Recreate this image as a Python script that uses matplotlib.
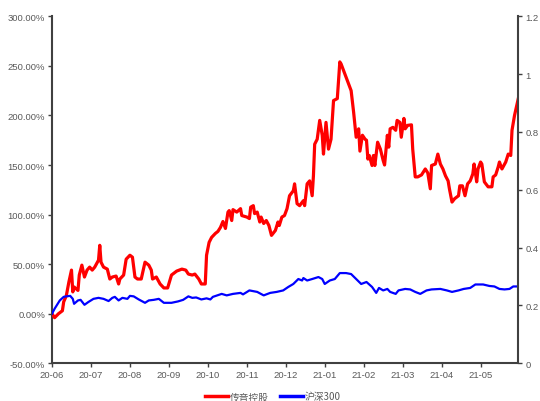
import matplotlib
matplotlib.use("Agg")
import matplotlib.pyplot as plt
import calendar
from datetime import date

plt.rcParams['font.family'] = ['Liberation Sans', 'Noto Sans CJK SC', 'DejaVu Sans']

# ---- data ----
red_dates = ["2020-06-01","2020-06-03","2020-06-06","2020-06-09","2020-06-10","2020-06-12","2020-06-14","2020-06-16",
             "2020-06-17","2020-06-18","2020-06-21","2020-06-22","2020-06-24","2020-06-26","2020-06-28","2020-06-30",
             "2020-07-02","2020-07-04","2020-07-07","2020-07-08","2020-07-09","2020-07-11","2020-07-14","2020-07-16",
             "2020-07-18","2020-07-21","2020-07-23","2020-07-24","2020-07-27","2020-07-29","2020-08-01","2020-08-03",
             "2020-08-05","2020-08-07","2020-08-10","2020-08-13","2020-08-16","2020-08-18","2020-08-19","2020-08-22",
             "2020-08-25","2020-08-28","2020-08-31","2020-09-03","2020-09-07","2020-09-11","2020-09-14","2020-09-16",
             "2020-09-19","2020-09-21","2020-09-24","2020-09-26","2020-09-29","2020-09-30","2020-10-02","2020-10-04",
             "2020-10-07","2020-10-09","2020-10-11","2020-10-13","2020-10-15","2020-10-17","2020-10-18","2020-10-20",
             "2020-10-21","2020-10-24","2020-10-27","2020-10-28","2020-11-01","2020-11-03","2020-11-04","2020-11-06",
             "2020-11-07","2020-11-09","2020-11-11","2020-11-12","2020-11-14","2020-11-16","2020-11-18","2020-11-20",
             "2020-11-23","2020-11-25","2020-11-26","2020-11-28","2020-11-30","2020-12-02","2020-12-04","2020-12-07",
             "2020-12-08","2020-12-10","2020-12-12","2020-12-15","2020-12-16","2020-12-18","2020-12-20","2020-12-22",
             "2020-12-23","2020-12-24","2020-12-26","2020-12-28","2020-12-30","2020-12-31","2021-01-02","2021-01-04",
             "2021-01-06","2021-01-08","2021-01-11","2021-01-13","2021-01-14","2021-01-18","2021-01-22","2021-01-24",
             "2021-01-26","2021-01-28","2021-01-29","2021-01-31","2021-02-02","2021-02-03","2021-02-04","2021-02-05",
             "2021-02-07","2021-02-08","2021-02-09","2021-02-11","2021-02-13","2021-02-15","2021-02-16","2021-02-18",
             "2021-02-19","2021-02-20","2021-02-22","2021-02-24","2021-02-25","2021-02-27","2021-02-28","2021-03-02",
             "2021-03-03","2021-03-05","2021-03-08","2021-03-09","2021-03-11","2021-03-13","2021-03-16","2021-03-19",
             "2021-03-21","2021-03-23","2021-03-24","2021-03-27","2021-03-29","2021-03-31","2021-04-02","2021-04-04",
             "2021-04-06","2021-04-07","2021-04-09","2021-04-11","2021-04-14","2021-04-15","2021-04-17","2021-04-19",
             "2021-04-21","2021-04-23","2021-04-25","2021-04-26","2021-04-28","2021-04-29","2021-05-01","2021-05-02",
             "2021-05-04","2021-05-07","2021-05-10","2021-05-11","2021-05-13","2021-05-15","2021-05-16","2021-05-18",
             "2021-05-21","2021-05-23","2021-05-25","2021-05-26","2021-05-28","2021-05-31"]
red_values = [0, -4, 0, 3, 12, 18, 32, 44,
              22, 27, 23.5, 39, 49, 37, 44, 47,
              44, 47, 54, 69, 52, 47, 45, 35,
              37, 38, 30, 35, 39, 55, 59, 57,
              37, 35, 35, 52, 49, 44, 35, 37,
              30, 26, 26, 39, 43, 45, 44, 40,
              39, 40, 35, 30, 30, 59, 72, 77,
              81, 83, 87, 93, 86, 102.5, 104, 94,
              105, 102.5, 106, 99, 97.5, 96, 107.5, 109,
              101, 102.5, 92.5, 97.5, 91, 94, 89, 79,
              84, 92.5, 89, 97.5, 99, 106, 119, 124,
              131, 111, 109, 114, 109, 131, 134, 119,
              139, 171, 176, 195, 180, 161, 193, 166,
              176, 215, 217, 254, 252, 238.5, 225, 203,
              178, 186.5, 164, 180, 176, 175, 156, 159.6,
              149.5, 159.6, 149.5, 173, 166, 154.5, 150, 180,
              168, 186.5, 188, 185, 195, 193, 178, 197,
              186.5, 190, 190.5, 166, 138, 138, 140, 146,
              142, 126, 149.5, 151, 161, 151, 146, 139,
              134, 126, 112.6, 116, 119, 129, 129, 119,
              131, 134, 141, 151, 133, 146, 153, 151,
              133, 128, 128, 138, 140, 148, 153, 146,
              153, 161, 159.6, 185, 200, 217]

blue_dates = ["2020-06-01","2020-06-03","2020-06-07","2020-06-10","2020-06-12","2020-06-15","2020-06-17","2020-06-18",
              "2020-06-21","2020-06-23","2020-06-26","2020-06-29","2020-07-03","2020-07-07","2020-07-11","2020-07-15",
              "2020-07-18","2020-07-20","2020-07-23","2020-07-26","2020-07-30","2020-08-01","2020-08-04","2020-08-08",
              "2020-08-13","2020-08-16","2020-08-20","2020-08-24","2020-08-28","2020-09-03","2020-09-08","2020-09-12",
              "2020-09-16","2020-09-19","2020-09-22","2020-09-26","2020-09-30","2020-10-03","2020-10-05","2020-10-12",
              "2020-10-16","2020-10-21","2020-10-27","2020-10-29","2020-11-03","2020-11-09","2020-11-14","2020-11-19",
              "2020-11-24","2020-11-29","2020-12-03","2020-12-07","2020-12-11","2020-12-14","2020-12-15","2020-12-18",
              "2020-12-22","2020-12-27","2020-12-30","2021-01-01","2021-01-05","2021-01-09","2021-01-13","2021-01-18",
              "2021-01-22","2021-01-26","2021-01-30","2021-02-03","2021-02-07","2021-02-10","2021-02-12","2021-02-15",
              "2021-02-18","2021-02-20","2021-02-24","2021-02-26","2021-03-03","2021-03-07","2021-03-11","2021-03-15",
              "2021-03-20","2021-03-24","2021-03-31","2021-04-05","2021-04-09","2021-04-14","2021-04-18","2021-04-23",
              "2021-04-27","2021-05-03","2021-05-08","2021-05-12","2021-05-16","2021-05-20","2021-05-24","2021-05-27",
              "2021-05-31"]
blue_values = [0, 5, 13.4, 17, 17.5, 18, 15, 10,
               13.4, 14, 9, 11.8, 15, 16, 15, 12.8,
               16, 17, 13.4, 16, 15, 18, 17.5, 14.4,
               11, 13.4, 14, 15, 11, 11, 12.4, 14,
               17.5, 16, 16.4, 14.4, 15.5, 14.4, 17, 20,
               18.5, 20, 21, 19.5, 23.5, 22, 18.5, 21,
               22, 23.5, 27, 30, 35, 33.5, 36, 33.5,
               35, 37, 35, 30, 33.5, 35, 41, 41,
               40, 35, 30, 32, 27, 21, 26, 23.5,
               25, 22, 20, 23.5, 25, 24.5, 22, 20,
               23.5, 24.5, 25, 23.5, 22, 23.5, 25, 26,
               29.5, 29.5, 28, 27.5, 25, 24.5, 25, 27.5,
               27.5]

month_labels = ["20-06","20-07","20-08","20-09","20-10","20-11","20-12",
                "21-01","21-02","21-03","21-04","21-05"]
left_ticks = [-50, 0, 50, 100, 150, 200, 250, 300]
right_ticks = [0, 0.2, 0.4, 0.6, 0.8, 1.0, 1.2]
series_names = ["传音控股", "沪深300"]
end_date = "2021-05-31"

# months are drawn evenly spaced (as in the source chart)
def month_pos(s):
    d = date.fromisoformat(s)
    k = (d.year - 2020) * 12 + d.month - 6
    n = calendar.monthrange(d.year, d.month)[1]
    return k + (d.day - 1) / n

red_x = [month_pos(s) for s in red_dates]
blue_x = [month_pos(s) for s in blue_dates]

fig = plt.figure(figsize=(5.4, 4.02), dpi=100)
ax = fig.add_axes([0.0963, 0.0938, 0.8635, 0.8632])

ax.plot(red_x, red_values, color='#FF0000', lw=2.3, label=series_names[0], solid_joinstyle='round', zorder=3)
ax.plot(blue_x, blue_values, color='#0000FF', lw=1.6, label=series_names[1], solid_joinstyle='round', zorder=4)

ax.set_xlim(0, month_pos(end_date))
ax.set_ylim(-50, 300)
ax.set_yticks(left_ticks)
ax.set_yticklabels([f"{v:.2f}%" for v in left_ticks])
ax.set_xticks(range(len(month_labels)))
ax.set_xticklabels(month_labels)

spine_c = '#404040'
label_c = '#595959'
for side in ['left', 'bottom', 'right']:
    ax.spines[side].set_color(spine_c)
    ax.spines[side].set_linewidth(1.5)
ax.spines['top'].set_visible(False)
ax.spines['right'].set_visible(False)
ax.tick_params(axis='both', direction='out', length=3, width=1, color=spine_c,
               labelsize=6.8, labelcolor=label_c, pad=2)

ax2 = ax.twinx()
ax2.set_ylim(0, 1.2)
ax2.set_yticks(right_ticks)
ax2.set_yticklabels([f"{v:g}" for v in right_ticks])
for side in ['left', 'bottom', 'top']:
    ax2.spines[side].set_visible(False)
ax2.spines['right'].set_color(spine_c)
ax2.spines['right'].set_linewidth(1.5)
ax2.tick_params(axis='y', direction='out', length=3, width=1, color=spine_c,
                labelsize=6.8, labelcolor=label_c, pad=2)

leg = ax.legend(loc='lower center', bbox_to_anchor=(0.505, -0.023), bbox_transform=fig.transFigure,
                ncol=2, frameon=False,
                prop={'family': ['Noto Sans CJK SC', 'DejaVu Sans'], 'size': 7.0},
                handlelength=2.4, handletextpad=0.2, columnspacing=1.1)
for line in leg.get_lines():
    line.set_linewidth(2.5)
for t in leg.get_texts():
    t.set_color(label_c)

fig.savefig("out.png", dpi=100)
